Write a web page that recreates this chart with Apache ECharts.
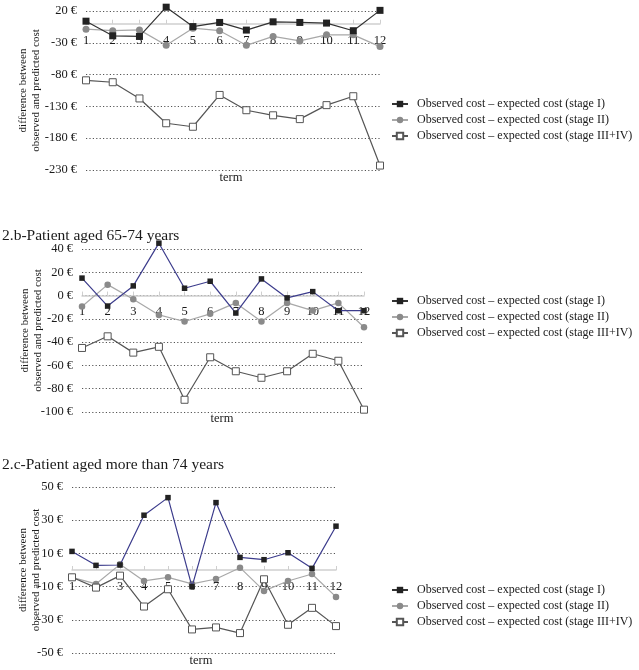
<!DOCTYPE html>
<html>
<head>
<meta charset="utf-8">
<script src="https://cdn.jsdelivr.net/npm/echarts@6/dist/echarts.min.js"></script>
<style>
  html, body { margin: 0; padding: 0; background: #fff; }
  #chart { width: 639px; height: 670px; }
</style>
</head>
<body>
<div id="chart"></div>
<script>
// ---- data ----
const categories = ['1','2','3','4','5','6','7','8','9','10','11','12'];
const seriesNames = [
  'Observed cost \u2013 expected cost (stage I)',
  'Observed cost \u2013 expected cost (stage II)',
  'Observed cost \u2013 expected cost (stage III+IV)'
];
const panelTitles = ['', '2.b-Patient aged 65-74 years', '2.c-Patient aged more than 74 years'];
const axisTitle = 'difference between\nobserved and predicted cost';
const xTitle = 'term';

// panel 1 (first panel, title cropped)
const p1StageI   = [4, -19, -20, 26, -4.5, 2, -10, 3, 2, 1, -11, 21];
const p1StageII  = [-8.6, -11, -9.7, -34, -7, -11, -34, -20, -27, -17.5, -17.5, -36];
const p1StageIII = [-89, -92, -117.5, -156.5, -162, -112, -136, -144, -150, -128, -114, -223];
const p1Ticks    = [-230, -180, -130, -80, -30, 20];

// panel 2 (65-74 years)
const p2StageI   = [15, -9, 8.3, 45, 6.3, 12.3, -15, 14.3, -2, 3.4, -13, -13];
const p2StageII  = [-9.4, 9.4, -3.1, -16.6, -22.3, -15.7, -6.3, -22.3, -6.3, -12.9, -6.3, -27.2];
const p2StageIII = [-45, -35, -49, -44, -89.5, -53, -65, -70.6, -65, -50, -56, -98];
const p2Ticks    = [-100, -80, -60, -40, -20, 0, 20, 40];

// panel 3 (> 74 years)
const p3StageI   = [11.2, 2.8, 3, 33, 43.6, -10, 40.6, 7.6, 6.2, 10.4, 1, 26.4];
const p3StageII  = [-4.4, -8.4, 3.4, -6.6, -4.4, -8.4, -5.4, 1.4, -12.6, -6.6, -2.4, -16.2];
const p3StageIII = [-4.4, -10.6, -3.4, -22, -11.6, -35.8, -34.6, -38, -5.6, -33, -22.8, -33.8];
const p3Ticks    = [-50, -30, -10, 10, 30, 50];

// ---- layout / style ----
const FONT = '"Liberation Serif", "Times New Roman", serif';
const TXT = '#1a1a1a';

const panels = [
  { data: [p1StageI, p1StageII, p1StageIII], ticks: p1Ticks,
    grid: { left: 86, top: 11, width: 294, height: 159 }, nameGap: 43,
    term: { x: 231, y: 178 }, legendTop: 92, stageIColor: '#333333', big: true },
  { data: [p2StageI, p2StageII, p2StageIII], ticks: p2Ticks,
    grid: { left: 82, top: 249, width: 282, height: 163 }, nameGap: 37,
    term: { x: 222, y: 419 }, legendTop: 289, stageIColor: '#3c3c8c', big: false },
  { data: [p3StageI, p3StageII, p3StageIII], ticks: p3Ticks,
    grid: { left: 72, top: 487, width: 264, height: 166 }, nameGap: 29,
    term: { x: 201, y: 661 }, legendTop: 578, stageIColor: '#3c3c8c', big: false }
];

const grids = [], xAxes = [], yAxes = [], series = [], legends = [], titles = [];

panels.forEach((p, i) => {
  const t = p.ticks;
  const yMin = t[0], yMax = t[t.length - 1];
  grids.push(Object.assign({ containLabel: false }, p.grid));
  // place the category axis on the zero line of the value axis
  const zeroOffset = -p.grid.height * (0 - yMin) / (yMax - yMin);
  xAxes.push({
    type: 'category', gridIndex: i, data: categories, boundaryGap: false,
    position: 'bottom', offset: zeroOffset,
    axisLine: { onZero: false, lineStyle: { color: '#cfcfcf', width: 1.5 } },
    axisTick: { show: true, inside: true, length: 4, lineStyle: { color: '#cfcfcf' } },
    axisLabel: { color: TXT, fontFamily: FONT, fontSize: 12.5, margin: 10 },
    splitLine: { show: false }, z: 3
  });
  yAxes.push({
    type: 'value', gridIndex: i, min: yMin, max: yMax, interval: t[1] - t[0],
    axisLine: { show: false }, axisTick: { show: false },
    axisLabel: { color: TXT, fontFamily: FONT, fontSize: 12.5, margin: 9,
      formatter: v => v + ' \u20ac' },
    splitLine: { show: true, lineStyle: { color: '#555', type: [1.2, 2.2], width: 1 } },
    name: axisTitle, nameLocation: 'middle', nameRotate: 90, nameGap: p.nameGap,
    nameMoveOverlap: false,
    nameTextStyle: { color: TXT, fontFamily: FONT, fontSize: 11, lineHeight: 13 }
  });
  const sz = p.big ? 7 : 5.5;
  series.push({
    name: seriesNames[0], type: 'line', xAxisIndex: i, yAxisIndex: i, data: p.data[0],
    clip: false, symbol: 'rect', symbolSize: sz,
    lineStyle: { color: p.stageIColor, width: 1.2 },
    itemStyle: { color: '#222', borderWidth: 0 }, z: 5
  });
  series.push({
    name: seriesNames[1], type: 'line', xAxisIndex: i, yAxisIndex: i, data: p.data[1],
    clip: false, symbol: 'circle', symbolSize: p.big ? 7 : 6.5,
    lineStyle: { color: '#a8a8a8', width: 1.2 },
    itemStyle: { color: '#8a8a8a', borderWidth: 0 }, z: 4
  });
  series.push({
    name: seriesNames[2], type: 'line', xAxisIndex: i, yAxisIndex: i, data: p.data[2],
    clip: false, symbol: 'rect', symbolSize: 7,
    lineStyle: { color: '#555', width: 1.2 },
    itemStyle: { color: '#fff', borderColor: '#555', borderWidth: 1 }, z: 4
  });
  legends.push({
    orient: 'vertical', left: 386, top: p.legendTop, data: seriesNames,
    itemWidth: 16, itemHeight: 8, itemGap: 2, selectedMode: false,
    textStyle: { color: TXT, fontFamily: FONT, fontSize: 12, lineHeight: 14, padding: [0, 0, 0, 4] }
  });
  titles.push({
    text: xTitle, left: p.term.x, top: p.term.y, textAlign: 'center', textVerticalAlign: 'middle',
    textStyle: { color: TXT, fontFamily: FONT, fontSize: 12.5, fontWeight: 'normal' }, padding: 0
  });
  if (panelTitles[i]) {
    titles.push({
      text: panelTitles[i], left: 2, top: i === 1 ? 228 : 457, padding: 0,
      textStyle: { color: TXT, fontFamily: FONT, fontSize: 15.5, fontWeight: 'normal' }
    });
  }
});

const chart = echarts.init(document.getElementById('chart'), null, { renderer: 'canvas' });
chart.setOption({
  animation: false,
  backgroundColor: '#fff',
  title: titles,
  legend: legends,
  grid: grids,
  xAxis: xAxes,
  yAxis: yAxes,
  series: series
});
</script>
</body>
</html>
